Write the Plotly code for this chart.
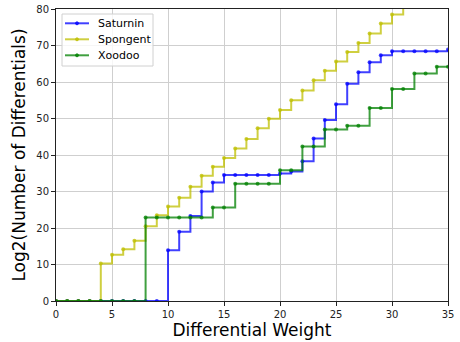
import plotly.graph_objects as go

weights = list(range(0, 36))

saturnin = [0, 0, 0, 0, 0, 0, 0, 0, 0, 0,
            13.9, 19.0, 23.3, 30.0, 32.5, 34.5, 34.5, 34.5, 34.5, 34.5,
            34.9, 35.5, 38.3, 44.5, 49.6, 53.9, 59.5, 62.7, 65.4, 67.3,
            68.4, 68.4, 68.4, 68.4, 68.4, 68.9]

spongent_weights = list(range(0, 32))
spongent = [0, 0, 0, 0, 10.3, 12.7, 14.2, 16.5, 20.5, 23.5,
            25.9, 28.3, 31.3, 34.3, 36.8, 39.2, 41.8, 44.4, 47.3, 49.9,
            52.3, 55.0, 57.7, 60.5, 63.1, 65.6, 68.2, 70.7, 73.3, 76.0,
            78.5, 81.0]

xoodoo = [0, 0, 0, 0, 0, 0, 0, 0, 22.9, 22.9,
          22.9, 22.9, 22.9, 22.9, 25.6, 25.6, 32.1, 32.1, 32.1, 32.1,
          35.8, 35.8, 42.3, 42.3, 47.0, 47.0, 48.0, 48.0, 52.9, 52.9,
          58.1, 58.1, 62.3, 62.3, 64.2, 64.2]

series_names = ["Saturnin", "Spongent", "Xoodoo"]

x_ticks = [0, 5, 10, 15, 20, 25, 30, 35]
y_ticks = [0, 10, 20, 30, 40, 50, 60, 70, 80]

FONT = "DejaVu Sans"
W, H = 460, 342
ML, MR, MT, MB = 56, 12, 9, 41
PW, PH = W - ML - MR, H - MT - MB


def px(x):
    return (x - ML) / PW


def py(y):
    return (H - MB - y) / PH


colors = ["rgba(0,0,255,0.75)", "rgba(191,191,0,0.75)", "rgba(0,128,0,0.75)"]
xs_list = [weights, spongent_weights, weights]
ys_list = [saturnin, spongent, xoodoo]

fig = go.Figure()
for name, xs, ys, col in zip(series_names, xs_list, ys_list, colors):
    fig.add_trace(go.Scatter(
        x=xs, y=ys, name=name, mode="lines+markers",
        line=dict(color=col, width=2, shape="hv"),
        marker=dict(color=col, size=4),
        showlegend=False,
    ))

# legend drawn in matplotlib style
shapes = [dict(type="rect", xref="paper", yref="paper",
               x0=px(62), x1=px(153), y0=py(66), y1=py(14),
               line=dict(color="#d0d0d0", width=1),
               fillcolor="rgba(255,255,255,0.8)", layer="above")]
annotations = []
for i, (name, col) in enumerate(zip(series_names, colors)):
    yc = 23.3 + 16 * i
    shapes.append(dict(type="line", xref="paper", yref="paper",
                       x0=px(65), x1=px(89), y0=py(yc), y1=py(yc),
                       line=dict(color=col, width=2), layer="above"))
    shapes.append(dict(type="circle", xref="paper", yref="paper",
                       x0=px(75.5), x1=px(78.5), y0=py(yc + 1.5), y1=py(yc - 1.5),
                       line=dict(color=col, width=1), fillcolor=col, layer="above"))
    annotations.append(dict(text=name, xref="paper", yref="paper",
                            x=px(96), y=py(yc), xanchor="left", yanchor="middle",
                            showarrow=False,
                            font=dict(family=FONT, size=11, color="black")))

fig.update_layout(
    width=W, height=H,
    margin=dict(l=ML, r=MR, t=MT, b=MB),
    paper_bgcolor="white", plot_bgcolor="white",
    font=dict(family=FONT, color="black", size=10),
    showlegend=False,
    shapes=shapes, annotations=annotations,
)
fig.update_xaxes(
    range=[0, 35], tickvals=x_ticks, ticktext=[str(v) for v in x_ticks],
    showgrid=True, gridcolor="#cfcfcf", gridwidth=1, zeroline=False,
    showline=True, linecolor="#222222", linewidth=1, mirror=True,
    ticks="outside", ticklen=4, tickcolor="#222222", automargin=False,
    tickfont=dict(family=FONT, size=10, color="#222222"),
    title=dict(text="Differential Weight", font=dict(family=FONT, size=17, color="black"), standoff=2),
)
fig.update_yaxes(
    range=[0, 80], tickvals=y_ticks, ticktext=[str(v) for v in y_ticks],
    showgrid=True, gridcolor="#cfcfcf", gridwidth=1, zeroline=False,
    showline=True, linecolor="#222222", linewidth=1, mirror=True,
    ticks="outside", ticklen=4, tickcolor="#222222", automargin=False,
    tickfont=dict(family=FONT, size=10, color="#222222"),
    title=dict(text="Log2(Number of Differentials)", font=dict(family=FONT, size=17, color="black"), standoff=6),
)

fig.write_html("out.html", config={"displayModeBar": False},
               post_script="document.body.style.margin='0px';")
